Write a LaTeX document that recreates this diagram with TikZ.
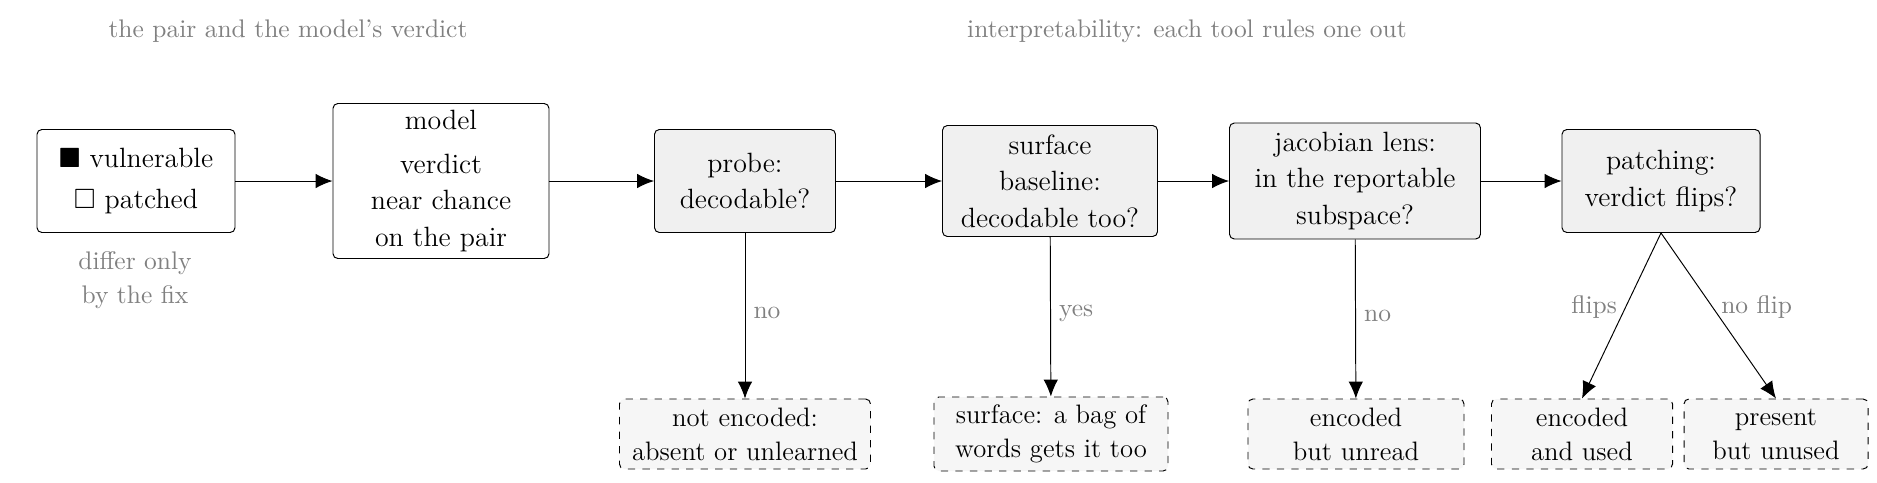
\documentclass[tikz,border=0pt]{standalone}
\usepackage{amssymb}
\usetikzlibrary{arrows.meta}
\begin{document}
\begin{tikzpicture}[x=0.0145cm,y=-0.0145cm,
  box/.style={draw,rounded corners=2pt,align=center,font=\fontsize{11.5}{15}\selectfont,inner sep=0pt},
  tool/.style={box,fill=gray!12},
  res/.style={draw,dashed,rounded corners=2pt,align=center,fill=gray!7,font=\fontsize{11}{14}\selectfont,inner sep=0pt},
  lab/.style={text=gray,font=\fontsize{10.5}{14}\selectfont,align=center},
  arr/.style={-{Latex[length=7pt,width=6pt]},thin}]
\useasboundingbox (0,0) rectangle (1877,482);
\node[lab] (t1) at (288,31) {the pair and the model's verdict};
\node[lab] (t2) at (1187,31) {interpretability: each tool rules one out};
\node[box,minimum width=198*0.0145cm,minimum height=103*0.0145cm] (in) at (136,181) {$\blacksquare$ vulnerable\\[2pt]$\square$ patched};
\node[lab] (diff) at (135,280) {differ only\\by the fix};
\node[box,minimum width=216*0.0145cm,minimum height=155*0.0145cm] (m) at (441,181) {model\\[3pt]verdict\\near chance\\on the pair};
\node[tool,minimum width=181*0.0145cm,minimum height=103*0.0145cm] (p) at (745,181) {probe:\\decodable?};
\node[tool,minimum width=215*0.0145cm,minimum height=111*0.0145cm] (s) at (1050,181) {surface\\baseline:\\decodable too?};
\node[tool,minimum width=251*0.0145cm,minimum height=116*0.0145cm] (j) at (1355,181) {jacobian lens:\\in the reportable\\subspace?};
\node[tool,minimum width=198*0.0145cm,minimum height=103*0.0145cm] (pa) at (1661,181) {patching:\\verdict flips?};
\node[res,minimum width=251*0.0145cm,minimum height=70*0.0145cm] (o1) at (745,434) {not encoded:\\absent or unlearned};
\node[res,minimum width=234*0.0145cm,minimum height=74*0.0145cm] (o2) at (1051,434) {surface: a bag of\\words gets it too};
\node[res,minimum width=216*0.0145cm,minimum height=70*0.0145cm] (o3) at (1356,434) {encoded\\but unread};
\node[res,minimum width=181*0.0145cm,minimum height=70*0.0145cm] (o4) at (1582,434) {encoded\\and used};
\node[res,minimum width=184*0.0145cm,minimum height=70*0.0145cm] (o5) at (1776,434) {present\\but unused};
\draw[arr] (in) -- (m);
\draw[arr] (m) -- (p);
\draw[arr] (p) -- (s);
\draw[arr] (s) -- (j);
\draw[arr] (j) -- (pa);
\draw[arr] (p) -- node[lab,right,pos=0.48] {no} (o1);
\draw[arr] (s) -- node[lab,right,pos=0.48] {yes} (o2);
\draw[arr] (j) -- node[lab,right,pos=0.48] {no} (o3);
\draw[arr] (pa.south) -- node[lab,left,pos=0.45] {flips} (o4.north);
\draw[arr] (pa.south) -- node[lab,right,pos=0.45] {no flip} (o5.north);
\end{tikzpicture}
\end{document}
